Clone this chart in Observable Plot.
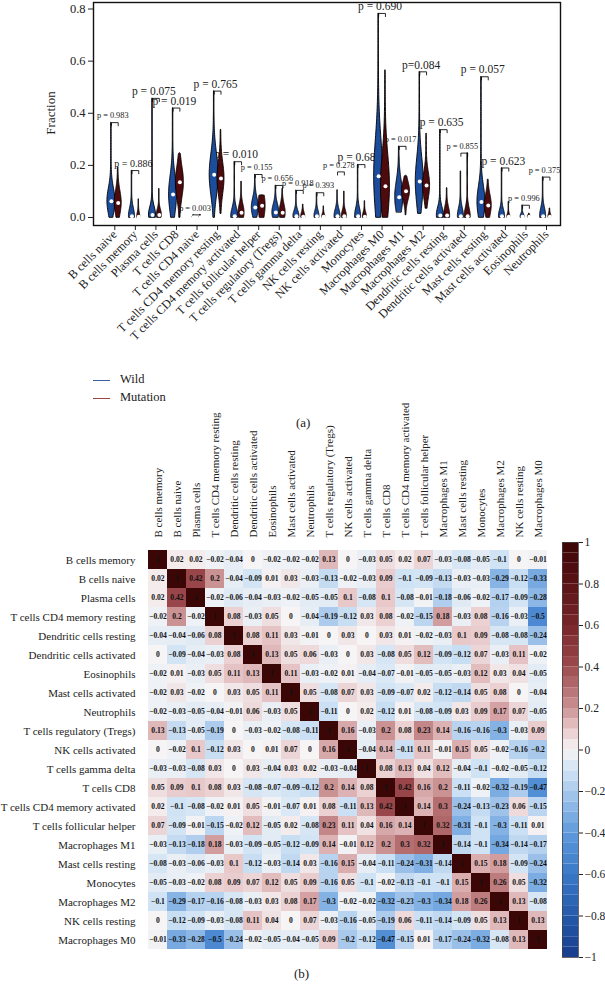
<!DOCTYPE html>
<html><head><meta charset="utf-8">
<script src="https://cdn.jsdelivr.net/npm/d3@7"></script>
<script src="https://cdn.jsdelivr.net/npm/@observablehq/plot@0.6"></script>
<style>
body{margin:0;background:#fff;font-family:"Liberation Serif",serif;}
#page{position:relative;width:605px;height:984px;overflow:hidden;background:#fff;}
#page svg, #page svg text, #page div{font-family:"Liberation Serif",serif !important;}
</style></head><body><div id="page"></div>
<script>
// ---------- Panel (a): violin data ----------
const cats = ["B cells naive","B cells memory","Plasma cells","T cells CD8","T cells CD4 naive","T cells CD4 memory resting","T cells CD4 memory activated","T cells follicular helper","T cells regulatory (Tregs)","T cells gamma delta","NK cells resting","NK cells activated","Monocytes","Macrophages M0","Macrophages M1","Macrophages M2","Dendritic cells resting","Dendritic cells activated","Mast cells resting","Mast cells activated","Eosinophils","Neutrophils"];
const wildMax    = [0.364,0.18,0.457,0.42,0.01,0.485,0.214,0.165,0.123,0.104,0.095,0.105,0.203,0.783,0.273,0.559,0.337,0.177,0.54,0.19,0.047,0.155];
const wildMed    = [0.062,0.005,0.01,0.088,0.001,0.164,0.005,0.038,0.019,0.005,0.005,0.005,0.005,0.158,0.078,0.138,0.008,0.005,0.059,0.005,0.003,0.005];
const wildWidth  = [4,3,3.5,4,1,4.5,3.5,3.5,3.5,3,2.5,3,3,4.5,4,4,3.5,3,4,3,2,3];
const wildSpread = [0.05,0.03,0.03,0.07,0.003,0.08,0.03,0.035,0.03,0.02,0.02,0.025,0.03,0.14,0.06,0.09,0.03,0.03,0.06,0.025,0.01,0.03];
const wildMin    = [0,0,0,0,0,0,0,0,0,0,0,0,0,0,0.02,0.015,0,0,0,0,0,0];
const mutMax     = [0.193,0.07,0.11,0.247,0.01,0.337,0.138,0.085,0.11,0.05,0.043,0.10,0.063,0.565,0.16,0.322,0.113,0.247,0.146,0.06,0.015,0.035];
const mutMed     = [0.056,0.003,0.01,0.135,0.001,0.15,0.018,0.045,0.018,0.003,0.003,0.005,0.003,0.12,0.101,0.123,0.008,0.005,0.046,0.003,0.003,0.003];
const mutWidth   = [3.5,1.5,2.5,4,1,3.5,3,3.5,3,2,1.5,2.5,2,4.5,4,3.5,3,3,3.5,1.5,1.5,1.5];
const mutSpread  = [0.045,0.015,0.02,0.06,0.003,0.06,0.03,0.05,0.03,0.015,0.01,0.02,0.015,0.12,0.035,0.05,0.03,0.03,0.04,0.01,0.005,0.01];
const mutMin     = [0,0,0,0,0,0.015,0,0,0,0,0,0,0,0,0.01,0.035,0,0,0,0,0,0];
const bracketH   = [0.364,0.18,0.457,0.42,0.01,0.485,0.214,0.165,0.123,0.104,0.095,0.175,0.203,0.783,0.273,0.559,0.337,0.247,0.54,0.19,0.047,0.155];
const pvals      = ["0.983","0.886","0.075","0.019","0.003","0.765","0.010","0.155","0.656","0.918","0.393","0.278","0.684","0.690","0.017","0.084","0.635","0.855","0.057","0.623","0.996","0.375"];
const yTicks = [0, 0.2, 0.4, 0.6, 0.8];

// ---------- Panel (b): correlation data ----------
const cellTypes = ["B cells memory","B cells naive","Plasma cells","T cells CD4 memory resting","Dendritic cells resting","Dendritic cells activated","Eosinophils","Mast cells activated","Neutrophils","T cells regulatory (Tregs)","NK cells activated","T cells gamma delta","T cells CD8","T cells CD4 memory activated","T cells follicular helper","Macrophages M1","Mast cells resting","Monocytes","Macrophages M2","NK cells resting","Macrophages M0"];
const corr = [
[1,0.02,0.02,-0.02,-0.04,0,-0.02,-0.02,-0.02,0.13,0,-0.03,0.05,0.02,0.07,-0.03,-0.08,-0.05,-0.1,0,-0.01],
[0.02,1,0.42,0.2,-0.04,-0.09,0.01,0.03,-0.03,-0.13,-0.02,-0.03,0.09,-0.1,-0.09,-0.13,-0.03,-0.03,-0.29,-0.12,-0.33],
[0.02,0.42,1,-0.02,-0.06,-0.04,-0.03,-0.02,-0.05,-0.05,0.1,-0.08,0.1,-0.08,-0.01,-0.18,-0.06,-0.02,-0.17,-0.09,-0.28],
[-0.02,0.2,-0.02,1,0.08,-0.03,0.05,0,-0.04,-0.19,-0.12,0.03,0.08,-0.02,-0.15,0.18,-0.03,0.08,-0.16,-0.03,-0.5],
[-0.04,-0.04,-0.06,0.08,1,0.08,0.11,0.03,-0.01,0,0.03,0,0.03,0.01,-0.02,-0.03,0.1,0.09,-0.08,-0.08,-0.24],
[0,-0.09,-0.04,-0.03,0.08,1,0.13,0.05,0.06,-0.03,0,0.03,-0.08,0.05,0.12,-0.09,-0.12,0.07,-0.03,0.11,-0.02],
[-0.02,0.01,-0.03,0.05,0.11,0.13,1,0.11,-0.03,-0.02,0.01,-0.04,-0.07,-0.01,-0.05,-0.05,-0.03,0.12,0.03,0.04,-0.05],
[-0.02,0.03,-0.02,0,0.03,0.05,0.11,1,0.05,-0.08,0.07,0.03,-0.09,-0.07,0.02,-0.12,-0.14,0.05,0.08,0,-0.04],
[-0.02,-0.03,-0.05,-0.04,-0.01,0.06,-0.03,0.05,1,-0.11,0,0.02,-0.12,0.01,-0.08,-0.09,0.03,0.09,0.17,0.07,-0.05],
[0.13,-0.13,-0.05,-0.19,0,-0.03,-0.02,-0.08,-0.11,1,0.16,-0.03,0.2,0.08,0.23,0.14,-0.16,-0.16,-0.3,-0.03,0.09],
[0,-0.02,0.1,-0.12,0.03,0,0.01,0.07,0,0.16,1,-0.04,0.14,-0.11,0.11,-0.01,0.15,0.05,-0.02,-0.16,-0.2],
[-0.03,-0.03,-0.08,0.03,0,0.03,-0.04,0.03,0.02,-0.03,-0.04,1,0.08,0.13,0.04,0.12,-0.04,-0.1,-0.02,-0.05,-0.12],
[0.05,0.09,0.1,0.08,0.03,-0.08,-0.07,-0.09,-0.12,0.2,0.14,0.08,1,0.42,0.16,0.2,-0.11,-0.02,-0.32,-0.19,-0.47],
[0.02,-0.1,-0.08,-0.02,0.01,0.05,-0.01,-0.07,0.01,0.08,-0.11,0.13,0.42,1,0.14,0.3,-0.24,-0.13,-0.23,0.06,-0.15],
[0.07,-0.09,-0.01,-0.15,-0.02,0.12,-0.05,0.02,-0.08,0.23,0.11,0.04,0.16,0.14,1,0.32,-0.31,-0.1,-0.3,-0.11,0.01],
[-0.03,-0.13,-0.18,0.18,-0.03,-0.09,-0.05,-0.12,-0.09,0.14,-0.01,0.12,0.2,0.3,0.32,1,-0.14,-0.1,-0.34,-0.14,-0.17],
[-0.08,-0.03,-0.06,-0.03,0.1,-0.12,-0.03,-0.14,0.03,-0.16,0.15,-0.04,-0.11,-0.24,-0.31,-0.14,1,0.15,0.18,-0.09,-0.24],
[-0.05,-0.03,-0.02,0.08,0.09,0.07,0.12,0.05,0.09,-0.16,0.05,-0.1,-0.02,-0.13,-0.1,-0.1,0.15,1,0.26,0.05,-0.32],
[-0.1,-0.29,-0.17,-0.16,-0.08,-0.03,0.03,0.08,0.17,-0.3,-0.02,-0.02,-0.32,-0.23,-0.3,-0.34,0.18,0.26,1,0.13,-0.08],
[0,-0.12,-0.09,-0.03,-0.08,0.11,0.04,0,0.07,-0.03,-0.16,-0.05,-0.19,0.06,-0.11,-0.14,-0.09,0.05,0.13,1,0.13],
[-0.01,-0.33,-0.28,-0.5,-0.24,-0.02,-0.05,-0.04,-0.05,0.09,-0.2,-0.12,-0.47,-0.15,0.01,-0.17,-0.24,-0.32,-0.08,0.13,1]
];
const colorbarTicks = [1,0.8,0.6,0.4,0.2,0,-0.2,-0.4,-0.6,-0.8,-1];

// ---------- styling (not data) ----------
const FONT = '"Liberation Serif", serif';
const WILD = "#1c4c9c", MUT = "#4e0b0d";
const largeLabels = new Set([2,3,5,6,12,13,15,16,18,19]);
const mediumLabels = new Set([1]);
const colorScale = {
  type: "linear",
  domain: [-1,-0.8,-0.6,-0.4,-0.2,-0.1,0,0.1,0.2,0.4,0.6,0.8,1],
  range: ["#163c8a","#2559aa","#3a78c8","#5e9adb","#a9c9ec","#cfe3f5","#f6f4f5","#e8c8c9","#cb9294","#9c4a4c","#78262a","#5a1215","#3a0606"]
};
const page = document.getElementById("page");
function place(el, left, top){ el.style.position="absolute"; el.style.left=left+"px"; el.style.top=top+"px"; el.style.background="transparent"; el.style.overflow="visible"; page.appendChild(el); return el; }

// ---------- build violin geometry ----------
const pxPerUnit = 20.56;
const off = 3.4 / pxPerUnit;
const violinRows = [], medians = [], brackets = [], labels = [];
cats.forEach((c, i) => {
  const groups = [
    ["Wild", -1, wildMax, wildMed, wildWidth, wildSpread, wildMin],
    ["Mutation", 1, mutMax, mutMed, mutWidth, mutSpread, mutMin]
  ];
  for (const [g, s, MX, MD, HW, SP, LO] of groups) {
    const cx = i + s * off, n = 60;
    for (let k = 0; k <= n; k++) {
      const v = LO[i] + (MX[i] - LO[i]) * k / n;
      let w = 0.25 + (HW[i] - 0.25) * Math.exp(-0.5 * ((v - MD[i]) / SP[i]) ** 2);
      if (k === n) w = 0.1;
      violinRows.push({id: c + "|" + g, g, v, x1: cx - w / pxPerUnit, x2: cx + w / pxPerUnit});
    }
    medians.push({x: cx, y: MD[i]});
  }
  const h = bracketH[i], d = 0.012, wc = i - off, mc = i + off;
  brackets.push({id: i, x: wc, y: h - d}, {id: i, x: wc, y: h}, {id: i, x: mc, y: h}, {id: i, x: mc, y: h - d});
  labels.push({x: i - 0.1, y: h, text: (i === 15 ? "p=" : "p = ") + pvals[i],
    size: largeLabels.has(i) ? 11.5 : mediumLabels.has(i) ? 10 : 8.3});
});

const violin = Plot.plot({
  width: 605, height: 370,
  marginLeft: 93, marginRight: 45, marginTop: 2, marginBottom: 145,
  style: {fontFamily: FONT, fontSize: "12.2px", background: "transparent", color: "#222"},
  x: {domain: [-1.036, 21.68], ticks: d3.range(cats.length), tickFormat: i => cats[i], tickRotate: -45, tickSize: 5, tickPadding: 2, label: null},
  y: {domain: [-0.0307, 0.825], ticks: yTicks, tickFormat: d3.format(".1f"), tickSize: 5, tickPadding: 3, label: null},
  marks: [
    Plot.text(labels, {x: "x", y: "y", text: "text", fontSize: "size", dy: -7, fill: "#222", ariaLabel: "pvals"}),
    Plot.line(brackets, {x: "x", y: "y", z: "id", stroke: "#111", strokeWidth: 0.9}),
    Plot.areaX(violinRows, {y: "v", x1: "x1", x2: "x2", z: "id", fill: d => d.g === "Wild" ? WILD : MUT, stroke: "#000", strokeWidth: 0.9, curve: "linear"}),
    Plot.dot(medians, {x: "x", y: "y", r: 2, fill: "white", stroke: "none"}),
    Plot.frame({stroke: "#111", strokeWidth: 1.4})
  ]
});
place(violin, 0, 0);
d3.select(violin).selectAll('g[aria-label="pvals"] text').each(function(){
  const t = this.textContent;
  if (t.startsWith("p = ")) {
    this.textContent = "";
    d3.select(this).append("tspan").attr("font-style", "italic").text("p");
    d3.select(this).append("tspan").text(t.slice(1));
  }
});
d3.select(violin).selectAll('g[aria-label="y-axis tick label"] text').style("font-size", "12.5px");

const yLab = document.createElement("div");
yLab.textContent = "Fraction";
yLab.style.fontSize = "13px"; yLab.style.color = "#222";
yLab.style.transform = "translate(-50%,-50%) rotate(-90deg)"; yLab.style.whiteSpace = "nowrap";
place(yLab, 51, 113);

// legend + caption (a)
const legend = document.createElement("div");
legend.innerHTML = `
<div style="position:absolute;left:0;top:8px;width:17px;height:1.3px;background:#3a5da8"></div>
<div style="position:absolute;left:27px;top:0;font-size:12.5px;color:#222;white-space:nowrap">Wild</div>
<div style="position:absolute;left:0;top:26px;width:17px;height:1.3px;background:#9a4444"></div>
<div style="position:absolute;left:27px;top:18px;font-size:12.5px;color:#222;white-space:nowrap">Mutation</div>`;
place(legend, 93, 372);
const capA = document.createElement("div");
capA.textContent = "(a)"; capA.style.fontSize = "13px"; capA.style.color = "#222";
place(capA, 296, 415);

// ---------- heatmap ----------
const cellsData = [];
cellTypes.forEach((r, i) => cellTypes.forEach((c, j) => cellsData.push({row: r, col: c, value: corr[i][j]})));
const fmt = v => String(v).replace("-", "\u2212");

const heat = Plot.plot({
  width: 605, height: 570,
  marginLeft: 140, marginRight: 50, marginTop: 147, marginBottom: 8,
  style: {fontFamily: FONT, fontSize: "11px", background: "transparent", color: "#222"},
  x: {domain: cellTypes, axis: "top", tickSize: 0, tickRotate: -90, tickPadding: 5, padding: 0, label: null},
  y: {domain: cellTypes, tickSize: 0, tickPadding: 5, padding: 0, label: null},
  color: colorScale,
  marks: [
    Plot.cell(cellsData, {x: "col", y: "row", fill: "value"}),
    Plot.text(cellsData, {x: "col", y: "row", text: d => fmt(d.value), fontSize: 7.6, fontWeight: "bold", fill: "#111"})
  ]
});
place(heat, 0, 395);

// colorbar
const steps = d3.range(-1, 1, 0.05).map(v => +v.toFixed(2));
const cbar = Plot.plot({
  width: 50, height: 570,
  marginLeft: 7, marginRight: 27, marginTop: 147, marginBottom: 8,
  style: {fontFamily: FONT, fontSize: "11.5px", background: "transparent", color: "#222", overflow: "visible"},
  x: {domain: [0, 1], axis: null},
  y: {domain: [-1, 1], axis: "right", ticks: colorbarTicks, tickFormat: d3.format("~g"), tickSize: 4, tickPadding: 2, label: null},
  color: colorScale,
  marks: [
    Plot.rect(steps, {x1: 0, x2: 1, y1: d => d, y2: d => d + 0.05, fill: d => d + 0.025}),
    Plot.frame({stroke: "#444", strokeWidth: 0.8})
  ]
});
place(cbar, 555, 395);

const capB = document.createElement("div");
capB.textContent = "(b)"; capB.style.fontSize = "13px"; capB.style.color = "#222";
place(capB, 294, 966);
</script></body></html>
